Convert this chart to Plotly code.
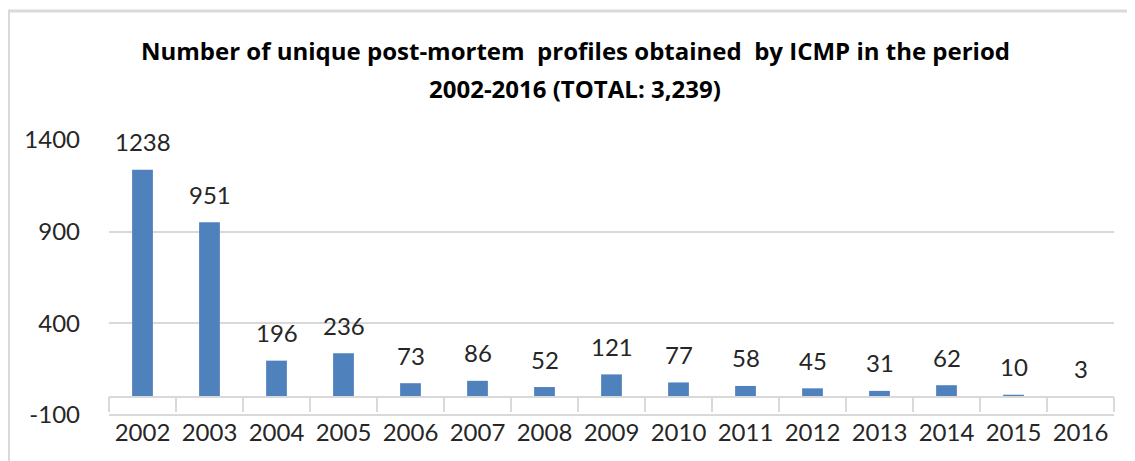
import plotly.graph_objects as go

years = ["2002", "2003", "2004", "2005", "2006", "2007", "2008", "2009",
         "2010", "2011", "2012", "2013", "2014", "2015", "2016"]
profiles = [1238, 951, 196, 236, 73, 86, 52, 121, 77, 58, 45, 31, 62, 10, 3]
y_ticks = [-100, 400, 900, 1400]
title_lines = ["Number of unique post-mortem  profiles obtained  by ICMP in the period",
               "2002-2016 (TOTAL: 3,239)"]

BAR = "#4f81bd"
GRID = "#d9d9d9"
FONT = "Lato"
TFONT = "Open Sans"

# figure is placed at (8, 8) in the page by the default body margin
W, H = 1127, 453
ML, MR, MT, MB = 101, 21, 132, 45
PW, PH = W - ML - MR, H - MT - MB

ymin, ymax = y_ticks[0], y_ticks[-1]
ylo = ymin - 6  # small pad so the bottom gridline is drawn

fig = go.Figure()
fig.add_trace(go.Bar(x=years, y=profiles, marker=dict(color=BAR, line=dict(width=0)),
                     hoverinfo="x+y"))
# helper trace for the category axis drawn at y = 0
fig.add_trace(go.Scatter(x=years, y=[0] * len(years), xaxis="x2", mode="markers",
                         marker=dict(opacity=0), hoverinfo="skip", showlegend=False))

for i, v in enumerate(profiles):
    fig.add_annotation(x=i, y=v, xref="x", yref="y", text=str(v), showarrow=False,
                       yanchor="middle", yshift=28,
                       font=dict(family=FONT, size=24, color="#262626"))

for txt, ypx in zip(title_lines, [42, 80]):
    fig.add_annotation(x=(567 - ML) / PW, y=(H - MB - ypx) / PH, xref="paper",
                       yref="paper", text=txt, showarrow=False, xanchor="center",
                       yanchor="middle",
                       font=dict(family=TFONT, size=24, color="black", weight="bold"))

fig.update_layout(
    width=W, height=H,
    margin=dict(l=ML, r=MR, t=MT, b=MB),
    paper_bgcolor="white", plot_bgcolor="white",
    showlegend=False,
    bargap=0.69,
    xaxis=dict(type="category", showgrid=False, showline=False, ticks="",
               tickfont=dict(family=FONT, size=24, color="#262626"),
               range=[-0.5, len(years) - 0.5]),
    xaxis2=dict(type="category", overlaying="x", matches="x", anchor="free",
                position=(0 - ylo) / (ymax - ylo), showgrid=False,
                showline=True, linecolor=GRID, linewidth=1.5,
                ticks="outside", tickson="boundaries", ticklen=15,
                tickcolor=GRID, tickwidth=1.5, showticklabels=False),
    yaxis=dict(range=[ylo, ymax], tickvals=y_ticks,
               ticktext=[str(t) for t in y_ticks], showgrid=True,
               gridcolor=GRID, gridwidth=1.5, zeroline=False, showline=False,
               ticks="", ticklabelstandoff=28,
               tickfont=dict(family=FONT, size=24, color="#262626")),
    shapes=[
        dict(type="line", xref="paper", yref="paper", x0=-ML / PW, x1=1 + MR / PW,
             y0=(H - MB - 3) / PH, y1=(H - MB - 3) / PH,
             line=dict(color=GRID, width=3)),
        dict(type="line", xref="paper", yref="paper", x0=(0.5 - ML) / PW,
             x1=(0.5 - ML) / PW, y0=(H - MB - 2) / PH, y1=-MB / PH,
             line=dict(color=GRID, width=3)),
    ],
)

fig.write_html("out.html")
